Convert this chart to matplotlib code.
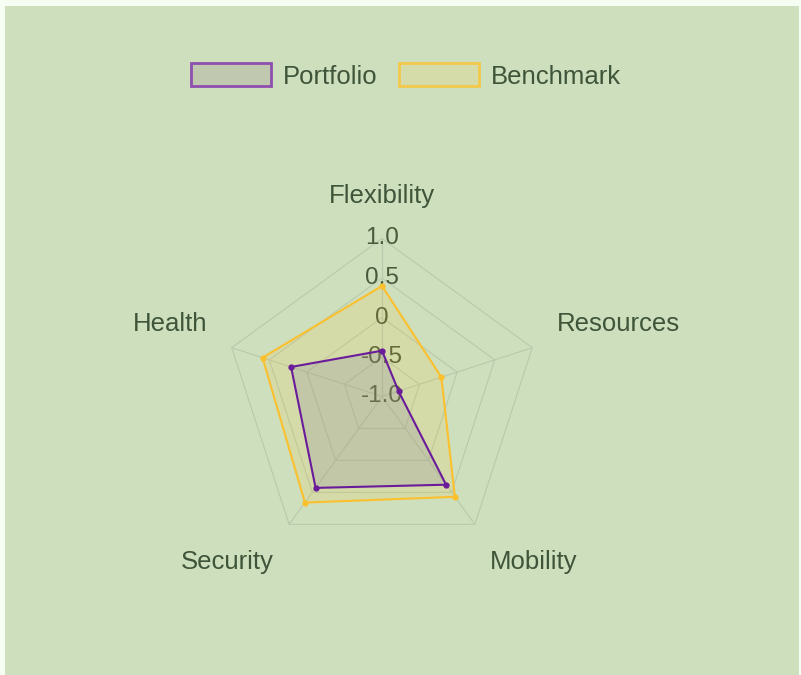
import numpy as np
import matplotlib.pyplot as plt
from matplotlib.patches import Patch, Rectangle

plt.rcParams['font.family'] = ['Liberation Sans', 'DejaVu Sans']

categories = ['Flexibility', 'Resources', 'Mobility', 'Security', 'Health']
portfolio = [-0.42, -0.78, 0.38, 0.43, 0.21]
benchmark = [0.40, -0.21, 0.57, 0.66, 0.59]
tick_values = [-1.0, -0.5, 0, 0.5, 1.0]
tick_labels = ['-1.0', '-0.5', '0', '0.5', '1.0']
vmin, vmax = -1.0, 1.0

bg = '#cedfbe'
text_col = '#3f5539'
grid_col = '#b9c9ac'
purple = '#6a1b9a'
purple_fill = '#7a7ea4'
yellow = '#fbc02d'

fig = plt.figure(figsize=(8.01, 6.75), dpi=100, facecolor='#f6fdf2')
fig.patches.append(Rectangle((5 / 801, 0), 794 / 801, 669 / 675,
                             transform=fig.transFigure, facecolor=bg,
                             edgecolor='none', zorder=-5))

ax = fig.add_axes([0, 0, 1, 1])
ax.set_facecolor('none')
ax.axis('off')
# unit radius = 158 px, centre at (382, 396.5) px from top-left
px = 1 / 158
ax.set_xlim(-382 * px, (801 - 382) * px)
ax.set_ylim(-(675 - 396.5) * px, 396.5 * px)

n = len(categories)
theta = np.arange(n) * 2 * np.pi / n


def to_xy(vals):
    r = (np.asarray(vals, dtype=float) - vmin) / (vmax - vmin)
    return r * np.sin(theta), r * np.cos(theta)


# grid pentagons
for v in tick_values[1:]:
    gx, gy = to_xy([v] * n)
    ax.fill(gx, gy, facecolor='none', edgecolor=grid_col, lw=0.8, zorder=1)
# angle lines
ox, oy = to_xy([vmax] * n)
for x, y in zip(ox, oy):
    ax.plot([0, x], [0, y], color=grid_col, lw=0.8, zorder=1)

# tick labels
for v, lab in zip(tick_values, tick_labels):
    r = (v - vmin) / (vmax - vmin)
    ax.text(0, r, lab, ha='center', va='center', fontsize=17.5,
            color='#4b5a3c', zorder=2)

# point labels
for name, t in zip(categories, theta):
    s, c = np.sin(t), np.cos(t)
    ha = 'center' if abs(s) < 1e-6 else ('left' if s > 0 else 'right')
    va = 'bottom' if c > 0 else 'top'
    dy = 4 * px if c > 0 else -5 * px
    ax.text(1.165 * s, 1.165 * c + dy, name, ha=ha, va=va, fontsize=18.5,
            color=text_col, zorder=2)

# datasets (benchmark first so portfolio sits on top)
for vals, line_col, fill_col, a in [(benchmark, yellow, yellow, 0.15),
                                    (portfolio, purple, purple_fill, 0.2)]:
    x, y = to_xy(vals)
    ax.fill(x, y, facecolor=fill_col, alpha=a, edgecolor='none', zorder=3)
    ax.plot(np.append(x, x[0]), np.append(y, y[0]), color=line_col, lw=1.5,
            zorder=4)
    ax.plot(x, y, 'o', color=line_col, ms=3.5, zorder=5)

handles = [Patch(facecolor='#c0c8b0', edgecolor='#8e4fae', lw=2, label='Portfolio'),
           Patch(facecolor='#d5dcaa', edgecolor='#f3c94a', lw=2, label='Benchmark')]
fig.legend(handles=handles, loc='center', bbox_to_anchor=(406 / 801, 1 - 76 / 675),
           ncol=2, frameon=False, fontsize=18.5, labelcolor=text_col,
           handlelength=3.1, handleheight=1.0, handletextpad=0.47,
           columnspacing=0.85)

fig.savefig('out.png', dpi=100, facecolor=fig.get_facecolor())
